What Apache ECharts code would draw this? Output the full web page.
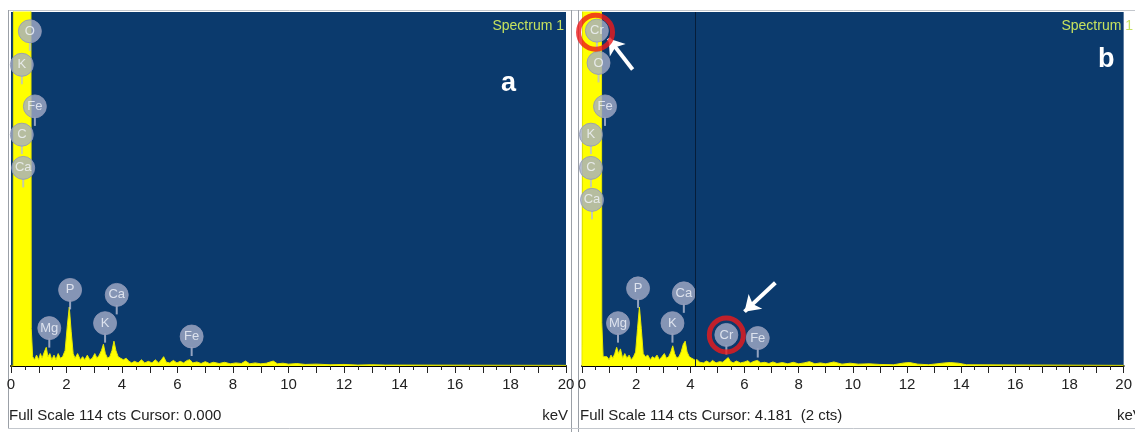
<!DOCTYPE html>
<html>
<head>
<meta charset="utf-8">
<title>EDS spectra</title>
<script src="https://cdn.jsdelivr.net/npm/echarts@6/dist/echarts.min.js"></script>
<style>
  html, body { margin: 0; padding: 0; background: #fff; }
  #chart { width: 1135px; height: 432px; }
</style>
</head>
<body>
<div id="chart"></div>
<script>
// spectrum a (keV / counts), C+O peak is off scale
const energyA = [0, 0.08, 0.1, 0.7, 0.73, 0.78, 0.85, 0.92, 1.0, 1.06, 1.12, 1.2, 1.27, 1.33, 1.4, 1.47,
  1.55, 1.62, 1.7, 1.78, 1.86, 1.95, 2.03, 2.1, 2.17, 2.24, 2.31, 2.4, 2.5, 2.58, 2.66, 2.75, 2.84, 2.93,
  3.02, 3.1, 3.18, 3.26, 3.33, 3.4, 3.48, 3.56, 3.64, 3.71, 3.78, 3.86, 3.95, 4.05, 4.15, 4.25, 4.35, 4.45,
  4.58, 4.7, 4.82, 4.95, 5.08, 5.2, 5.32, 5.42, 5.5, 5.6, 5.72, 5.85, 5.98, 6.1, 6.22, 6.35, 6.45, 6.55,
  6.7, 6.85, 7.0, 7.15, 7.3, 7.5, 7.7, 7.9, 8.1, 8.3, 8.45, 8.6, 8.8, 9.0, 9.2, 9.45, 9.6, 9.8, 10.0,
  10.3, 10.6, 11.0, 11.5, 12.0, 12.5, 13.0, 13.5, 14.0, 20];
const countsA = [0, 0, 300, 300, 12, 3, 2, 3.5, 2, 4, 2.5, 4.5, 6, 3, 4, 2,
  3.5, 2, 4, 2.5, 3, 5, 13, 19, 11, 4, 2.5, 4, 2, 3, 2, 3.5, 2, 2.5,
  4, 2.5, 3.5, 5, 7, 4, 2.5, 3, 5, 8, 5, 3, 2.5, 2, 2.5, 1.5, 1, 1.5,
  1, 2, 1, 1.5, 1, 2, 1, 2, 3, 1.2, 1, 1.8, 1, 1.5, 1, 1.8, 2, 1,
  1.3, 0.8, 1.4, 0.8, 1.2, 0.8, 1.2, 0.7, 1, 0.8, 1.6, 0.7, 1, 0.7, 0.9, 1.6, 0.7, 0.9, 0.6,
  0.8, 0.5, 0.6, 0.4, 0.5, 0.3, 0.4, 0.3, 0.3, 0.2];

// spectrum b
const energyB = [0, 0.04, 0.06, 0.7, 0.73, 0.78, 0.85, 0.92, 1.0, 1.07, 1.14, 1.21, 1.28, 1.35, 1.42, 1.5,
  1.58, 1.66, 1.74, 1.82, 1.9, 1.98, 2.05, 2.12, 2.19, 2.26, 2.34, 2.43, 2.52, 2.6, 2.68, 2.77, 2.86, 2.95,
  3.04, 3.12, 3.2, 3.28, 3.35, 3.42, 3.5, 3.58, 3.66, 3.74, 3.81, 3.88, 3.96, 4.05, 4.15, 4.25, 4.35, 4.48,
  4.6, 4.72, 4.82, 4.95, 5.08, 5.2, 5.3, 5.4, 5.48, 5.58, 5.7, 5.85, 6.0, 6.12, 6.22, 6.35, 6.48, 6.6,
  6.75, 6.9, 7.05, 7.2, 7.4, 7.6, 7.8, 8.0, 8.2, 8.4, 8.6, 8.8, 9.0, 9.3, 9.6, 9.9, 10.2, 10.6, 11.0,
  11.5, 11.9, 12.1, 12.4, 12.8, 13.4, 13.6, 13.9, 14.2, 20];
const countsB = [0, 0, 300, 300, 14, 3, 2.5, 3, 2, 3.5, 2.5, 4, 6, 4, 5.5, 2.5,
  4, 2.5, 3.5, 2, 3, 4.5, 12, 19, 12, 4, 3, 3.5, 2, 3, 2.5, 3.5, 2, 3,
  4, 2.5, 3, 4.5, 6.5, 4, 2.5, 3, 4.5, 7, 8, 4.5, 3, 2.5, 2, 2, 1.2, 1,
  1.6, 1, 1.8, 1, 1.4, 1.2, 2, 2.7, 1.5, 1, 1.6, 1, 1.3, 1.7, 1, 1.5, 1.8, 1,
  1.2, 0.8, 1.3, 0.8, 1.1, 0.7, 1.2, 0.7, 1, 1.4, 0.7, 1, 0.7, 1.3, 0.6, 0.9, 0.6, 0.7, 0.5,
  0.4, 1, 1.1, 0.6, 0.4, 1, 1.1, 0.9, 0.4, 0.2];

// element markers [keV, counts of badge centre]
const peakNamesA = ['O', 'K', 'Fe', 'C', 'Ca', 'P', 'Mg', 'K', 'Ca', 'Fe'];
const peakKevA = [0.68, 0.39, 0.86, 0.39, 0.44, 2.13, 1.38, 3.39, 3.81, 6.51];
const peakCtsA = [107.8, 97, 83.6, 74.5, 63.8, 24.5, 12.2, 13.8, 22.9, 9.5];

const peakNamesB = ['Cr', 'O', 'Fe', 'K', 'C', 'Ca', 'P', 'Mg', 'K', 'Ca', 'Cr', 'Fe'];
const peakKevB = [0.55, 0.61, 0.85, 0.33, 0.33, 0.37, 2.07, 1.33, 3.34, 3.76, 5.33, 6.49];
const peakCtsB = [108, 97.6, 83.6, 74.5, 63.8, 53.5, 25, 13.8, 13.8, 23.4, 10, 9];

// highlighted Cr peaks in b, with arrows
const ringKevB = [0.5, 5.33];
const ringCtsB = [107.5, 10];
const arrowsB = [
  [[1.87, 95.5], [0.98, 105.5]],
  [[7.14, 26.8], [6.0, 17.5]]
];
const cursorB = 4.181;
const fullScale = 114;

const FONT = '"Liberation Sans Narrow", "Liberation Sans", Arial, sans-serif';
const BG = '#0b3a6d';

const chart = echarts.init(document.getElementById('chart'));

function pairs(xs, ys) {
  return xs.map((x, i) => [x, ys[i]]);
}
function badges(names, kev, cts) {
  return names.map((n, i) => [kev[i], cts[i], n]);
}

function xAxisFor(gridIndex) {
  return {
    type: 'value',
    gridIndex: gridIndex,
    min: 0,
    max: 20,
    interval: 1,
    axisLine: { show: true, lineStyle: { color: '#000', width: 2 } },
    axisTick: { show: true, length: 7, lineStyle: { color: '#222' } },
    minorTick: { show: true, splitNumber: 2, length: 4, lineStyle: { color: '#222' } },
    splitLine: { show: false },
    axisLabel: {
      color: '#222',
      fontFamily: FONT,
      fontSize: 15,
      margin: 11,
      showMinLabel: true,
      showMaxLabel: true,
      formatter: v => (v % 2 === 0 ? String(v) : '')
    }
  };
}
function yAxisFor(gridIndex) {
  return {
    type: 'value',
    gridIndex: gridIndex,
    min: 0,
    max: fullScale,
    show: false,
    splitLine: { show: false }
  };
}

function spectrum(idx, data, extra) {
  return Object.assign({
    type: 'line',
    xAxisIndex: idx,
    yAxisIndex: idx,
    data: data,
    symbol: 'none',
    clip: true,
    lineStyle: { color: '#e6e600', width: 1 },
    areaStyle: { color: '#ffff00', opacity: 1 },
    z: 2
  }, extra || {});
}

function badgeSeries(idx, data) {
  return [
    {
      type: 'scatter',
      xAxisIndex: idx,
      yAxisIndex: idx,
      data: data,
      symbol: 'rect',
      symbolSize: [2, 9],
      symbolOffset: [0, 15],
      itemStyle: { color: '#b7bed4' },
      silent: true,
      z: 3
    },
    {
      type: 'scatter',
      xAxisIndex: idx,
      yAxisIndex: idx,
      data: data,
      symbol: 'circle',
      symbolSize: 23,
      itemStyle: { color: '#a4acc7', borderColor: '#8e97b6', borderWidth: 1 },
      label: {
        show: true,
        position: 'inside',
        color: '#f3f5fb',
        fontFamily: FONT,
        fontSize: 13,
        formatter: p => p.data[2]
      },
      silent: true,
      z: 4
    }
  ];
}

const option = {
  animation: false,
  backgroundColor: '#fff',
  grid: [
    { left: 11, top: 12, width: 555, height: 354, show: true, backgroundColor: BG, borderWidth: 0 },
    { left: 582, top: 12, width: 550, height: 354, show: true, backgroundColor: BG, borderWidth: 0 }
  ],
  xAxis: [xAxisFor(0), xAxisFor(1)],
  yAxis: [yAxisFor(0), yAxisFor(1)],
  series: [
    spectrum(0, pairs(energyA, countsA)),
    spectrum(1, pairs(energyB, countsB), {
      markLine: {
        silent: true,
        symbol: ['none', 'none'],
        label: { show: false },
        lineStyle: { color: '#061d3a', width: 1, type: 'solid' },
        data: [{ xAxis: cursorB }]
      }
    }),
    ...badgeSeries(0, badges(peakNamesA, peakKevA, peakCtsA)),
    ...badgeSeries(1, badges(peakNamesB, peakKevB, peakCtsB)),
    {
      type: 'scatter',
      xAxisIndex: 1,
      yAxisIndex: 1,
      data: pairs(ringKevB, ringCtsB),
      symbol: 'circle',
      symbolSize: 34,
      itemStyle: { color: 'rgba(0,0,0,0)', borderColor: '#ee1a1a', borderWidth: 5 },
      silent: true,
      z: 5,
      markLine: {
        silent: true,
        symbol: ['none', 'arrow'],
        symbolSize: [15, 15],
        label: { show: false },
        lineStyle: { color: '#ffffff', width: 4, type: 'solid' },
        data: arrowsB.map(a => [{ coord: a[0] }, { coord: a[1] }])
      }
    }
  ],
  graphic: [
    { type: 'line', shape: { x1: 8, y1: 10.5, x2: 1135, y2: 10.5 }, style: { stroke: '#c3c7cd', lineWidth: 1 } },
    { type: 'line', shape: { x1: 8.5, y1: 10, x2: 8.5, y2: 428 }, style: { stroke: '#9ba0a7', lineWidth: 1 } },
    { type: 'line', shape: { x1: 571.5, y1: 10, x2: 571.5, y2: 432 }, style: { stroke: '#9ba0a7', lineWidth: 1 } },
    { type: 'line', shape: { x1: 578.5, y1: 10, x2: 578.5, y2: 432 }, style: { stroke: '#9ba0a7', lineWidth: 1 } },
    { type: 'line', shape: { x1: 8, y1: 428.5, x2: 1135, y2: 428.5 }, style: { stroke: '#c3c7cd', lineWidth: 1 } },
    { type: 'text', right: 1135 - 564, top: 19, style: { text: 'Spectrum 1', fill: '#c6e25e', font: '14px ' + FONT } },
    { type: 'text', right: 2, top: 19, style: { text: 'Spectrum 1', fill: '#c6e25e', font: '14px ' + FONT } },
    { type: 'text', left: 501, top: 70, style: { text: 'a', fill: '#ffffff', font: 'bold 27px "Liberation Sans", Arial, sans-serif' } },
    { type: 'text', left: 1098, top: 46, style: { text: 'b', fill: '#ffffff', font: 'bold 27px "Liberation Sans", Arial, sans-serif' } },
    { type: 'text', left: 9, top: 408, style: { text: 'Full Scale 114 cts Cursor: 0.000', fill: '#222', font: '15px ' + FONT } },
    { type: 'text', right: 1135 - 568, top: 408, style: { text: 'keV', fill: '#222', font: '15px ' + FONT } },
    { type: 'text', left: 580, top: 408, style: { text: 'Full Scale 114 cts Cursor: 4.181  (2 cts)', fill: '#222', font: '15px ' + FONT } },
    { type: 'text', left: 1117, top: 408, style: { text: 'keV', fill: '#222', font: '15px ' + FONT } }
  ]
};

chart.setOption(option);
</script>
</body>
</html>
